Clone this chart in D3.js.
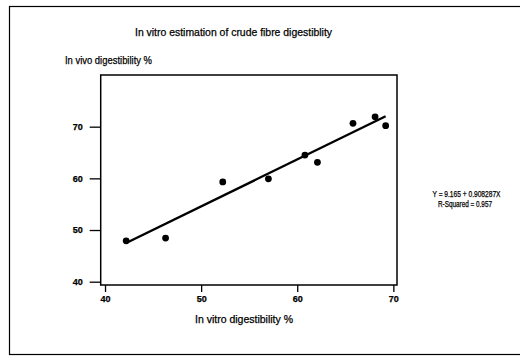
<!DOCTYPE html>
<html>
<head>
<meta charset="utf-8">
<script src="https://cdn.jsdelivr.net/npm/d3@7"></script>
<style>
  body { margin: 0; background: #fff; }
  svg text { font-family: "Liberation Sans", Arial, sans-serif; fill: #000; stroke: #000; stroke-width: 0.25px; }
</style>
</head>
<body>
<div id="chart"></div>
<script>
// data
const inVitro = [42.2, 46.3, 52.25, 57.0, 60.8, 62.1, 65.8, 68.1, 69.2];
const inVivo = [47.9, 48.45, 59.3, 59.9, 64.5, 63.1, 70.65, 71.9, 70.2];
const xTicks = [40, 50, 60, 70];
const yTicks = [40, 50, 60, 70];
const intercept = 9.165;
const slope = 0.908287;
const rSquared = 0.957;

const width = 520, height = 356;
const svg = d3.select("#chart").append("svg")
    .attr("width", width)
    .attr("height", height);

// outer frame
svg.append("rect")
    .attr("x", 9.5).attr("y", 6.5)
    .attr("width", 530).attr("height", 348)
    .attr("fill", "none")
    .attr("stroke", "#000")
    .attr("stroke-width", 1.2);

const plot = { left: 100.7, right: 397, top: 75, bottom: 285 };

const x = d3.scaleLinear().domain([39.55, 70.38]).range([plot.left, plot.right]);
const y = d3.scaleLinear().domain([39.36, 80.0]).range([plot.bottom, plot.top]);

// plot box
svg.append("rect")
    .attr("x", plot.left).attr("y", plot.top)
    .attr("width", plot.right - plot.left)
    .attr("height", plot.bottom - plot.top)
    .attr("fill", "none")
    .attr("stroke", "#000")
    .attr("stroke-width", 1.5);

// axes
const xAxis = svg.append("g")
    .attr("transform", `translate(0,${plot.bottom})`)
    .call(d3.axisBottom(x).tickValues(xTicks).tickSize(7).tickPadding(4));
const yAxis = svg.append("g")
    .attr("transform", `translate(${plot.left},0)`)
    .call(d3.axisLeft(y).tickValues(yTicks).tickSize(11).tickPadding(7));

[xAxis, yAxis].forEach(a => {
    a.select(".domain").remove();
    a.selectAll(".tick line").attr("stroke", "#000").attr("stroke-width", 1.3);
    a.selectAll(".tick text")
        .style("font-size", "9px")
        .style("font-weight", "bold")
        .attr("fill", "#000");
});

// regression line
const xr = d3.extent(inVitro);
const fit = xr.map(v => [v, intercept + slope * v]);
svg.append("path")
    .datum(fit)
    .attr("fill", "none")
    .attr("stroke", "#000")
    .attr("stroke-width", 2.4)
    .attr("d", d3.line().x(d => x(d[0])).y(d => y(d[1])));

// points
svg.append("g")
    .selectAll("circle")
    .data(inVitro)
    .join("circle")
    .attr("cx", d => x(d))
    .attr("cy", (d, i) => y(inVivo[i]))
    .attr("r", 3.4)
    .attr("fill", "#000");

// titles
svg.append("text")
    .attr("x", 135).attr("y", 36)
    .attr("textLength", 197)
    .attr("lengthAdjust", "spacingAndGlyphs")
    .style("font-size", "10.5px")
    .text("In vitro estimation of crude fibre digestiblity");

svg.append("text")
    .attr("x", 65).attr("y", 63.5)
    .attr("textLength", 87)
    .attr("lengthAdjust", "spacingAndGlyphs")
    .style("font-size", "10.5px")
    .text("In vivo digestibility %");

svg.append("text")
    .attr("x", 195).attr("y", 323)
    .attr("textLength", 98)
    .attr("lengthAdjust", "spacingAndGlyphs")
    .style("font-size", "10.5px")
    .text("In vitro digestibility %");

// equation
svg.append("text")
    .attr("x", 432.5).attr("y", 196.5)
    .attr("textLength", 68)
    .attr("lengthAdjust", "spacingAndGlyphs")
    .style("font-size", "8.5px")
    .text(`Y = ${intercept} + ${slope}X`);

svg.append("text")
    .attr("x", 438).attr("y", 206.5)
    .attr("textLength", 54)
    .attr("lengthAdjust", "spacingAndGlyphs")
    .style("font-size", "8.5px")
    .text(`R-Squared = ${rSquared}`);
</script>
</body>
</html>
